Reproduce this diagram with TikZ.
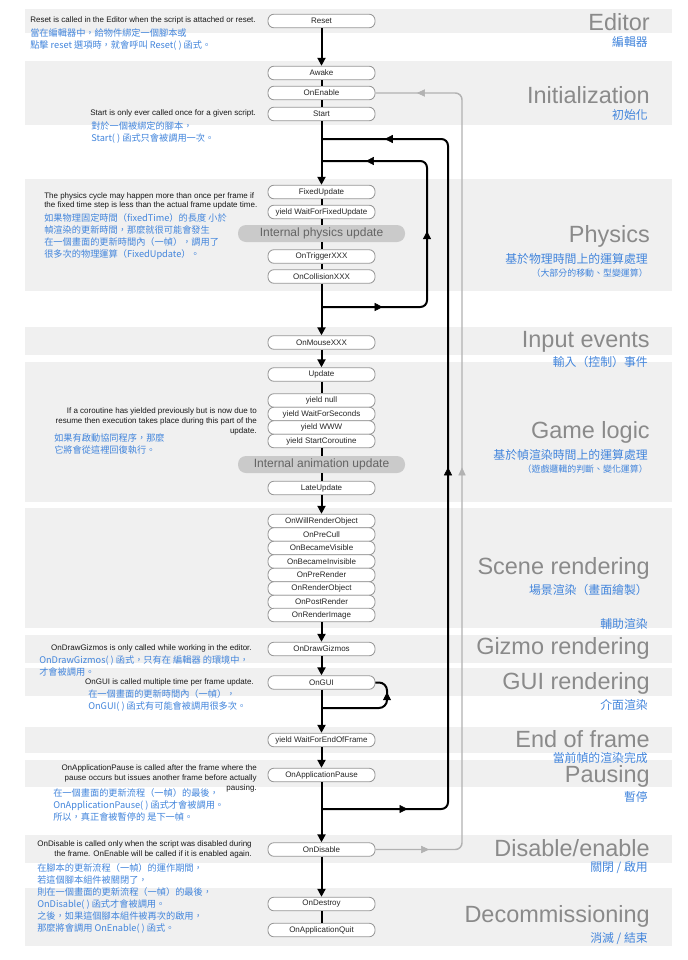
\documentclass[tikz,border=0pt]{standalone}
\usepackage{fontspec}
\setmainfont{Liberation Sans}
\newfontfamily\cjk{Noto Sans CJK TC}
\usetikzlibrary{arrows.meta,decorations.markings}
\definecolor{bandgray}{RGB}{240,240,240}
\definecolor{titlegray}{RGB}{138,138,138}
\definecolor{noteblue}{RGB}{66,133,220}
\definecolor{boxline}{RGB}{150,150,150}
\definecolor{pillgray}{RGB}{202,202,202}
\definecolor{pilltext}{RGB}{100,100,100}
\definecolor{loopgray}{RGB}{178,178,178}
\tikzset{
  box/.style={draw=boxline,line width=0.6pt,fill=white,rounded corners=4.5pt,minimum width=80.25pt,minimum height=10.2pt,inner sep=0pt,font=\fontsize{6}{7}\selectfont,text=black!85},
  pill/.style={fill=pillgray,rounded corners=6pt,minimum width=125.25pt,minimum height=12.75pt,inner sep=0pt,font=\fontsize{9}{10}\selectfont,text=pilltext},
  band/.style={fill=bandgray,draw=none},
  title/.style={anchor=east,inner sep=0pt,font=\fontsize{17.6}{19}\selectfont,text=titlegray},
  subtitle/.style={anchor=east,inner sep=0pt,font=\cjk\fontsize{8.9}{10}\selectfont,text=noteblue},
  subsmall/.style={anchor=east,inner sep=0pt,font=\cjk\fontsize{6.7}{8}\selectfont,text=noteblue},
  enote/.style={inner sep=0pt,font=\fontsize{6}{7.2}\selectfont,text=black!90},
  cnote/.style={inner sep=0pt,anchor=west,align=left,font=\cjk\fontsize{6.9}{9}\selectfont,text=noteblue},
  flow/.style={line width=1.5pt,black},
  arr/.style={flow,-{Triangle[width=6pt,length=6pt]}},
  grayflow/.style={line width=1.1pt,loopgray},
  blackmark/.style={decoration={markings,mark=at position #1 with {\arrow[black]{Triangle[width=6pt,length=6pt]}}},postaction={decorate}},
  graymark/.style={decoration={markings,mark=at position #1 with {\arrow[loopgray]{Triangle[width=5.5pt,length=6pt]}}},postaction={decorate}}
}
\begin{document}
\begin{tikzpicture}[x=0.75pt,y=-0.75pt]
\useasboundingbox (0,0) rectangle (687,960);
\fill[white] (0,0) rectangle (687,960);
% bands
\foreach \a/\b in {9/33,61/125,179/291,327/355,362/502,508/628,635/663,668/696,727/753,760/787,835/863,888/946}{
  \fill[band] (25,\a) rectangle (672,\b);
}

% titles
\node[title] (tEditor) at (650,22) {Editor};
\node[subtitle] (sEditor) at (648,42) {編輯器};
\node[title] (tInit) at (650,95) {Initialization};
\node[subtitle] (sInit) at (648,115) {初始化};
\node[title] (tPhys) at (650,236) {Physics};
\node[subtitle] (sPhys) at (648,259) {基於物理時間上的運算處理};
\node[subsmall] (sPhys2) at (648,273) {（大部分的移動、型變運算）};
\node[title] (tInput) at (650,342) {Input events};
\node[subtitle] (sInput) at (648,362) {輸入（控制）事件};
\node[title] (tGame) at (650,432) {Game logic};
\node[subtitle] (sGame) at (648,455) {基於幀渲染時間上的運算處理};
\node[subsmall] (sGame2) at (648,469) {（遊戲邏輯的判斷、變化運算）};
\node[title] (tScene) at (650,568) {Scene rendering};
\node[subtitle] (sScene) at (648,590) {場景渲染（畫面繪製）};
\node[subtitle] (sGizmo) at (648,624) {輔助渲染};
\node[title] (tGizmo) at (650,648) {Gizmo rendering};
\node[title] (tGUI) at (650,683) {GUI rendering};
\node[subtitle] (sGUI) at (648,705) {介面渲染};
\node[title] (tEnd) at (650,739.5) {End of frame};
\node[subtitle] (sEnd) at (648,757.5) {當前幀的渲染完成};
\node[title] (tPause) at (650,776.5) {Pausing};
\node[subtitle] (sPause) at (648,797) {暫停};
\node[title] (tDis) at (650,848) {Disable/enable};
\node[subtitle] (sDis) at (648,868) {關閉 / 啟用};
\node[title] (tDec) at (650,916) {Decommissioning};
\node[subtitle] (sDec) at (648,939) {消滅 / 結束};

% boxes
\node[box] (reset) at (321.5,21) {Reset};
\node[box] (awake) at (321.5,73) {Awake};
\node[box] (onenable) at (321.5,93) {OnEnable};
\node[box] (start) at (321.5,114) {Start};
\node[box] (fixedupdate) at (321.5,192) {FixedUpdate};
\node[box] (waitfixed) at (321.5,212) {yield WaitForFixedUpdate};
\node[pill] (physpill) at (321.5,233.5) {Internal physics update};
\node[box] (ontrigger) at (321.5,256.5) {OnTriggerXXX};
\node[box] (oncollision) at (321.5,276.5) {OnCollisionXXX};
\node[box] (onmouse) at (321.5,342.5) {OnMouseXXX};
\node[box] (update) at (321.5,374.5) {Update};
\node[box] (ynull) at (321.5,400.5) {yield null};
\node[box] (ywait) at (321.5,414) {yield WaitForSeconds};
\node[box] (ywww) at (321.5,427.5) {yield WWW};
\node[box] (ystart) at (321.5,441) {yield StartCoroutine};
\node[pill] (animpill) at (321.5,464.5) {Internal animation update};
\node[box] (lateupdate) at (321.5,488) {LateUpdate};
\node[box] (willrender) at (321.5,521) {OnWillRenderObject};
\node[box] (precull) at (321.5,534.5) {OnPreCull};
\node[box] (becamevis) at (321.5,548) {OnBecameVisible};
\node[box] (becameinvis) at (321.5,561.5) {OnBecameInvisible};
\node[box] (prerender) at (321.5,575) {OnPreRender};
\node[box] (renderobj) at (321.5,588.5) {OnRenderObject};
\node[box] (postrender) at (321.5,602) {OnPostRender};
\node[box] (renderimage) at (321.5,615) {OnRenderImage};
\node[box] (drawgizmos) at (321.5,649) {OnDrawGizmos};
\node[box] (ongui) at (321.5,682.5) {OnGUI};
\node[box] (waitend) at (321.5,740) {yield WaitForEndOfFrame};
\node[box] (apppause) at (321.5,775) {OnApplicationPause};
\node[box] (ondisable) at (321.5,849.5) {OnDisable};
\node[box] (ondestroy) at (321.5,904) {OnDestroy};
\node[box] (appquit) at (321.5,930) {OnApplicationQuit};

% main flow
\draw[arr] (reset) -- (awake);
\draw[flow] (awake) -- (onenable);
\draw[flow] (onenable) -- (start);
\draw[arr] (start) -- (fixedupdate);
\draw[flow] (fixedupdate) -- (waitfixed);
\draw[flow] (waitfixed) -- (physpill);
\draw[flow] (physpill) -- (ontrigger);
\draw[flow] (ontrigger) -- (oncollision);
\draw[arr] (oncollision) -- (onmouse);
\draw[arr] (onmouse) -- (update);
\draw[flow] (update) -- (ynull);
\draw[flow] (ystart) -- (animpill);
\draw[flow] (animpill) -- (lateupdate);
\draw[arr] (lateupdate) -- (willrender);
\draw[arr] (renderimage) -- (drawgizmos);
\draw[arr] (drawgizmos) -- (ongui);
\draw[arr] (ongui) -- (waitend);
\draw[arr] (waitend) -- (apppause);
\draw[arr] (apppause) -- (ondisable);
\draw[arr] (ondisable) -- (ondestroy);
\draw[flow] (ondestroy) -- (appquit);

% inner physics loop
\coordinate (il1) at (321.5,307);
\coordinate (il2) at (427,307);
\coordinate (il3) at (427,161);
\coordinate (il4) at (321.5,161);
\draw[flow,rounded corners=5pt] (il1) -- (il2) -- (il3) -- (il4);
\path[blackmark=0.58] (il1) -- (il2);
\path[blackmark=0.52] (il2) -- (il3);
\path[blackmark=0.58] (il3) -- (il4);

% outer frame loop
\coordinate (ol1) at (321.5,809);
\coordinate (ol2) at (448,809);
\coordinate (ol3) at (448,139);
\coordinate (ol4) at (321.5,139);
\draw[flow,rounded corners=5pt] (ol1) -- (ol2) -- (ol3) -- (ol4);
\path[blackmark=0.68] (ol1) -- (ol2);
\path[blackmark=0.51] (ol2) -- (ol3);
\path[blackmark=0.5] (ol3) -- (ol4);

% gray enable loop
\coordinate (gl2) at (462,849.5);
\coordinate (gl3) at (462,93);
\draw[grayflow,rounded corners=5pt] (ondisable.east) -- (gl2) -- (gl3) -- (onenable.east);
\path[graymark=0.62] (ondisable.east) -- (gl2);
\path[graymark=0.505] (gl2) -- (gl3);
\path[graymark=0.52] (gl3) -- (onenable.east);

% OnGUI loop
\coordinate (ug1) at (321.5,708);
\coordinate (ug2) at (387,708);
\coordinate (ug3) at (387,682.5);
\draw[flow,rounded corners=6pt] (ug1) -- (ug2) -- (ug3) -- (ongui.east);
\path[blackmark=0.62] (ug2) -- (ug3);

% notes
\node[enote,anchor=east] (nReset) at (256,20.5) {Reset is called in the Editor when the script is attached or reset.};
\node[cnote] (cReset) at (30,39.5) {當在編輯器中，給物件綁定一個腳本或\\點擊 reset 選項時，就會呼叫 Reset( ) 函式。};
\node[enote,anchor=east] (nStart) at (256,113.5) {Start is only ever called once for a given script.};
\node[cnote] (cStart) at (91,133) {對於一個被綁定的腳本，\\Start( ) 函式只會被調用一次。};
\node[enote,anchor=west,align=left] (nPhys) at (44,201) {The physics cycle may happen more than once per frame if\\the fixed time step is less than the actual frame update time.};
\node[cnote] (cPhys) at (44,237) {如果物理固定時間（fixedTime）的長度 小於\\幀渲染的更新時間，那麼就很可能會發生\\在一個畫面的更新時間內（一幀），調用了\\很多次的物理運算（FixedUpdate）。};
\node[enote,anchor=east,align=right] (nCo) at (257,421.5) {If a coroutine has yielded previously but is now due to\\resume then execution takes place during this part of the\\update.};
\node[cnote] (cCo) at (54,444) {如果有啟動協同程序，那麼\\它將會從這裡回復執行。};
\node[enote,anchor=east] (nGizmo) at (252,648) {OnDrawGizmos is only called while working in the editor.};
\node[cnote] (cGizmo) at (39,665.5) {OnDrawGizmos( ) 函式，只有在 編輯器 的環境中，\\才會被調用。};
\node[enote,anchor=east] (nGUI) at (254,682) {OnGUI is called multiple time per frame update.};
\node[cnote] (cGUI) at (88,700.5) {在一個畫面的更新時間內（一幀），\\OnGUI( ) 函式有可能會被調用很多次。};
\node[enote,anchor=east,align=right] (nPause) at (257,778.5) {OnApplicationPause is called after the frame where the\\pause occurs but issues another frame before actually\\pausing.};
\node[cnote] (cPause) at (53,805) {在一個畫面的更新流程（一幀）的最後，\\OnApplicationPause( ) 函式才會被調用。\\所以，真正會被暫停的 是下一幀。};
\node[enote,anchor=east,align=right] (nDis) at (252,849.5) {OnDisable is called only when the script was disabled during\\the frame. OnEnable will be called if it is enabled again.};
\node[cnote] (cDis) at (37,898) {在腳本的更新流程（一幀）的運作期間，\\若這個腳本組件被關閉了，\\則在一個畫面的更新流程（一幀）的最後，\\OnDisable( ) 函式才會被調用。\\之後，如果這個腳本組件被再次的啟用，\\那麼將會調用 OnEnable( ) 函式。};
\end{tikzpicture}
\end{document}
